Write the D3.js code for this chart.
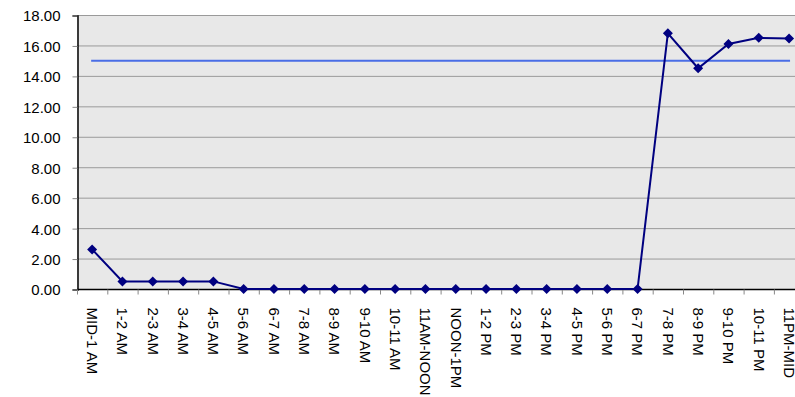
<!DOCTYPE html>
<html>
<head>
<meta charset="utf-8">
<script src="https://cdn.jsdelivr.net/npm/d3@7"></script>
<style>
  html, body { margin: 0; padding: 0; background: #fff; }
  svg { display: block; }
  text { font-family: "Liberation Sans", Arial, sans-serif; fill: #000; }
</style>
</head>
<body>
<svg id="chart" width="795" height="397"></svg>
<script>
// Hourly time slots
const categories = ["MID-1 AM", "1-2 AM", "2-3 AM", "3-4 AM", "4-5 AM", "5-6 AM", "6-7 AM", "7-8 AM",
  "8-9 AM", "9-10 AM", "10-11 AM", "11AM-NOON", "NOON-1PM", "1-2 PM", "2-3 PM", "3-4 PM",
  "4-5 PM", "5-6 PM", "6-7 PM", "7-8 PM", "8-9 PM", "9-10 PM", "10-11 PM", "11PM-MID"];
// Measured values per slot
const values = [2.6, 0.5, 0.5, 0.5, 0.5, 0, 0, 0, 0, 0, 0, 0, 0, 0, 0, 0, 0, 0, 0, 16.8, 14.5, 16.1, 16.5, 16.45];
// Reference level drawn across all slots
const target = 15;
const yTicks = [0, 2, 4, 6, 8, 10, 12, 14, 16, 18];

const svg = d3.select("#chart");
const plotLeft = 77, plotTop = 15, plotBottom = 289, bandW = 30.3;
const x = d3.scaleBand().domain(categories).range([plotLeft, plotLeft + bandW * categories.length]).padding(0);
const y = d3.scaleLinear().domain([0, 18]).range([plotBottom, plotTop]);
const cx = d => x(d) + x.bandwidth() / 2;

// Plot background
svg.append("rect").attr("x", plotLeft).attr("y", plotTop)
  .attr("width", x.range()[1] - plotLeft).attr("height", plotBottom - plotTop).attr("fill", "#e8e8e8");

// Horizontal gridlines
svg.append("g").selectAll("line").data(yTicks.filter(t => t > 0)).join("line")
  .attr("x1", plotLeft).attr("x2", x.range()[1])
  .attr("y1", d => y(d) + 0.5).attr("y2", d => y(d) + 0.5)
  .attr("stroke", "#9a9a9a").attr("stroke-width", 1);

// Y axis
const yAxis = d3.axisLeft(y).tickValues(yTicks).tickFormat(d3.format(".2f")).tickSize(5).tickPadding(12);
const gy = svg.append("g").attr("transform", `translate(${plotLeft + 0.5},0.5)`).call(yAxis);
gy.select(".domain").attr("stroke", "#000").attr("stroke-width", 1.5);
gy.selectAll(".tick line").attr("stroke", "#888");
gy.selectAll("text").attr("font-size", 15).attr("dy", "0.36em")
  .style("font-family", '"Liberation Sans", Arial, sans-serif');

// X axis with ticks at band edges
const gx = svg.append("g").attr("transform", `translate(0,${plotBottom + 0.5})`);
gx.append("line").attr("x1", plotLeft).attr("x2", x.range()[1]).attr("y1", 0).attr("y2", 0)
  .attr("stroke", "#000").attr("stroke-width", 1.5);
gx.selectAll("line.tk").data(d3.range(categories.length + 1)).join("line").attr("class", "tk")
  .attr("x1", i => plotLeft + i * x.bandwidth() + 0.5).attr("x2", i => plotLeft + i * x.bandwidth() + 0.5)
  .attr("y1", 0).attr("y2", 5).attr("stroke", "#888");
gx.selectAll("text").data(categories).join("text")
  .attr("transform", d => `translate(${cx(d)},18) rotate(90)`)
  .attr("dy", "0.35em").attr("text-anchor", "start").attr("font-size", 15)
  .text(d => d);

// Target line
svg.append("line")
  .attr("x1", cx(categories[0]) - 1).attr("x2", cx(categories[categories.length - 1]) + 1)
  .attr("y1", y(target)).attr("y2", y(target))
  .attr("stroke", "#4a6ee6").attr("stroke-width", 2);

// Series line
const line = d3.line().x((d, i) => cx(categories[i])).y(d => y(d));
svg.append("path").datum(values).attr("d", line)
  .attr("fill", "none").attr("stroke", "#000080").attr("stroke-width", 2);

// Diamond markers (squares turned 45 degrees)
svg.append("g").selectAll("path").data(values).join("path")
  .attr("d", d3.symbol().type(d3.symbolSquare).size(50)())
  .attr("transform", (d, i) => `translate(${cx(categories[i])},${y(d)}) rotate(45)`)
  .attr("fill", "#000080");
</script>
</body>
</html>
